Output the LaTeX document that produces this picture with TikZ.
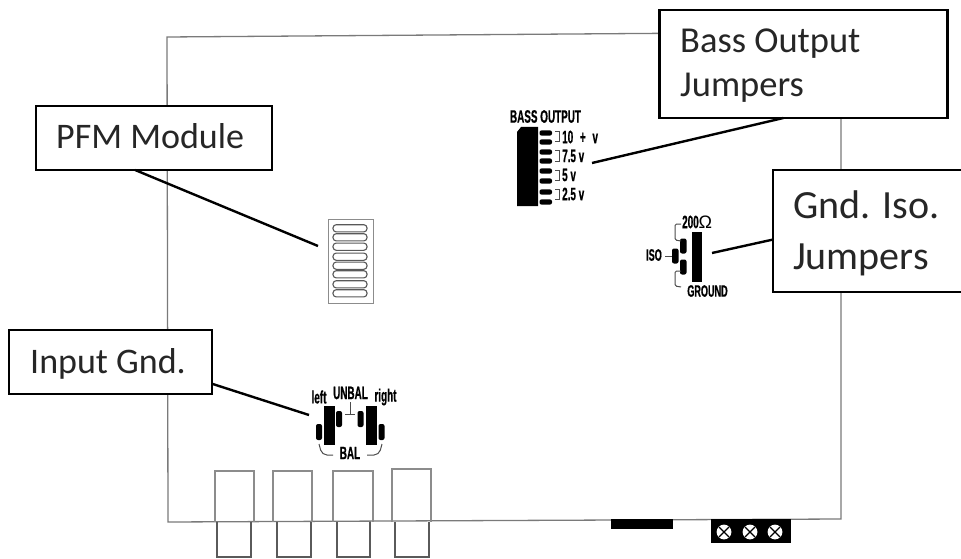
\documentclass[tikz,border=0pt]{standalone}
\usepackage{fontspec}
\setmainfont{Carlito}
\newfontfamily\condfont[FakeStretch=0.55,FakeBold=0.6]{Liberation Sans Bold}
\newfontfamily\omegafont{Liberation Sans}
\usetikzlibrary{calc}
\definecolor{boardgray}{HTML}{7A7A7A}
\definecolor{jackgray}{HTML}{8C8C8C}
\definecolor{plugdark}{HTML}{5A5A5A}
\tikzset{
  x=1pt,y=-1pt,
  callout/.style={draw=black,line width=2.2pt,fill=white,inner sep=0pt,outer sep=0pt,anchor=north west},
  calltext/.style={anchor=base west,inner sep=0pt,text=black!85,align=left},
  leader/.style={draw=black,line width=2.4pt},
  board/.style={draw=boardgray,line width=1.3pt},
  jack/.style={draw=jackgray,line width=1.2pt},
  plug/.style={draw=plugdark,line width=1.2pt},
  solidblock/.style={fill=black,draw=none},
  pill/.style={fill=black,draw=none,rounded corners=2pt},
  wire/.style={draw=black!70,line width=1pt,rounded corners=1.5pt},
  silk/.style={font=\condfont\fontsize{18}{18}\selectfont,inner sep=0pt,text=black},
  silksmall/.style={font=\condfont\fontsize{16.5}{16.5}\selectfont,inner sep=0pt,text=black},
  slot/.style={draw=black!65,line width=1.1pt,rounded corners=3.2pt},
}
\begin{document}
\begin{tikzpicture}
\useasboundingbox (0,0) rectangle (961,559);
\fill[white] (0,0) rectangle (961,559);
% board
\draw[board] (167,37) -- (841,32) -- (841,519) -- (168,522) -- cycle;
% jacks
\foreach \n/\a/\b/\t in {1/215/254/471,2/273/312/471,3/333/373/471,4/392/431/469}{
  \draw[jack] (\a,522) -- (\a,\t) -- (\b,\t) -- (\b,522);}
\foreach \a/\b in {217/251,277/311,337/370,395/429}{
  \draw[plug] (\a,522) -- (\a,557) -- (\b,557) -- (\b,522);}
% bottom parts
\fill[solidblock] (611,519) rectangle (673,529);
\fill[solidblock] (711,519) rectangle (791,543);
\foreach \c in {724,750,775}{
  \fill[white] (\c,532) circle (7.4);
  \draw[black,line width=1.3pt] (\c-5,527) -- (\c+5,537) (\c-5,537) -- (\c+5,527);
}
% PFM module
\draw[draw=black!45,line width=1pt] (328,219) rectangle (373,303);
\foreach \y in {228.3,237.3,246.7,256.7,265.7,274.3,284.3,293.3}{
  \draw[slot] (333,\y-3.6) rectangle (367,\y+3.6);}
\coordinate (pfmtarget) at (318,246);
% bass output
\node[silk] (basstitle) at (545.5,116.5) {BASS OUTPUT};
\fill[solidblock] (521,127) -- (538,127) -- (538,206) -- (517,206) -- (517,132) -- cycle;
\foreach \y in {133,142,152,161,171,181,192,202}{
  \fill[pill] (539.5,\y-2.6) rectangle (552,\y+2.6);}
\foreach \y in {137,156,175,194}{
  \draw[black!70,line width=1pt] (555,\y-5) -- (559,\y-5) -- (559,\y+5) -- (555,\y+5);}
\node[silk,anchor=west] (v10) at (562,137) {10\hspace{4pt} + \hspace{4pt}v};
\node[silk,anchor=west] (v75) at (562,156) {7.5 v};
\node[silk,anchor=west] (v5) at (562,175) {5 v};
\node[silk,anchor=west] (v25) at (562,194) {2.5 v};
\coordinate (basstarget) at (592,163);
% iso
\node[silk,anchor=west] (r200) at (682,222) {200{\omegafont Ω}};
\node[silksmall] (gnd) at (707.5,291) {GROUND};
\node[silksmall] (iso) at (654,255) {ISO};
\fill[solidblock] (692,232) rectangle (702,282);
\fill[pill] (680,238.5) rectangle (686.5,253.5);
\fill[pill] (672,248.5) rectangle (678.5,263.5);
\fill[pill] (680,259.5) rectangle (686.5,274.5);
\draw[wire] (681,224) -- (675,224) -- (675,240) -- (681,241);
\draw[wire] (681,271) -- (675,271) -- (675,286) -- (681,287);
\draw[wire] (665,256) -- (672,256);
\coordinate (isotarget) at (712,253);
% input
\node[silk] (left) at (319,397) {left};
\node[silk] (unbal) at (350.5,393) {UNBAL};
\node[silk] (right) at (385.5,397) {right};
\node[silk] (bal) at (350,453) {BAL};
\fill[solidblock] (324,406) rectangle (335,445);
\fill[solidblock] (366,406) rectangle (377,445);
\fill[pill] (316,424) rectangle (322,440);
\fill[pill] (336,411) rectangle (342,427);
\fill[pill] (357.5,411) rectangle (363.5,427);
\fill[pill] (378.5,424) rectangle (384.5,440);
\draw[wire] (350,402) -- (350,414);
\draw[wire] (345,414) -- (355,414);
\draw[wire,rounded corners=5pt] (319,444) -- (322,455) -- (333,455);
\draw[wire,rounded corners=5pt] (382,444) -- (379,455) -- (367,455);
\coordinate (inputtarget) at (309,415);
% callouts
\node[callout,minimum width=288pt,minimum height=108pt] (bassbox) at (659.5,10) {};
\node[calltext,font=\fontsize{36.5}{44}\selectfont] (basstext) at (680,97) {Bass Output\\Jumpers};
\node[callout,minimum width=190pt,minimum height=122pt] (isobox) at (773,170) {};
\node[calltext,font=\fontsize{40}{51}\selectfont] (isotext) at (793,269) {Gnd. Iso.\\Jumpers};
\node[callout,minimum width=236pt,minimum height=64pt] (pfmbox) at (36,106) {};
\node[calltext,font=\fontsize{36}{36}\selectfont] (pfmtext) at (56,149) {PFM Module};
\node[callout,minimum width=203pt,minimum height=64pt] (inputbox) at (9,330) {};
\node[calltext,font=\fontsize{36}{36}\selectfont] (inputtext) at (30,373) {Input Gnd.};
% leaders
\draw[leader] (basstarget) -- ($(bassbox.south west)!0.43!(bassbox.south east)$);
\draw[leader] (isotarget) -- ($(isobox.north west)!0.57!(isobox.south west)$);
\draw[leader] (pfmtarget) -- ($(pfmbox.south west)!0.42!(pfmbox.south east)$);
\draw[leader] (inputtarget) -- ($(inputbox.north east)!0.84!(inputbox.south east)$);
\end{tikzpicture}
\end{document}
